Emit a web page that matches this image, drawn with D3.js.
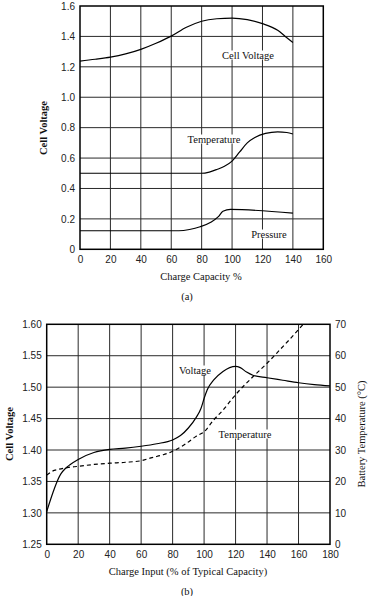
<!DOCTYPE html>
<html>
<head>
<meta charset="utf-8">
<script src="https://cdn.jsdelivr.net/npm/d3@7"></script>
<style>
  body { margin: 0; background: #fff; }
  svg { display: block; font-family: "Liberation Serif", "DejaVu Serif", serif; }
  .tick-label { font-size: 10px; fill: #222; }
  .grid line { stroke: #2a2a2a; stroke-width: 1; }
  .frame { fill: none; stroke: #000; stroke-width: 1.5; }
  .curve { fill: none; stroke: #000; stroke-width: 1.2; }
  .curve.dashed { stroke-dasharray: 4 3; }
  .note { font-size: 10.5px; fill: #111; }
</style>
</head>
<body>
<svg id="chart" width="386" height="596"></svg>
<script>
// chart (a): charge capacity %, values on one left axis
const capTicksA = [0, 20, 40, 60, 80, 100, 120, 140, 160];
const valTicksA = [0, 0.2, 0.4, 0.6, 0.8, 1.0, 1.2, 1.4, 1.6];
const cellVoltageA = [[0,1.238],[10,1.25],[20,1.264],[30,1.285],[40,1.315],[50,1.355],[60,1.402],
  [70,1.46],[80,1.50],[90,1.516],[100,1.52],[110,1.51],[120,1.484],[130,1.44],[135,1.40],[140,1.36]];
const temperatureA = [[0,0.5],[80,0.5],[85,0.508],[90,0.525],[95,0.546],[100,0.58],[105,0.64],
  [110,0.70],[115,0.735],[122,0.762],[130,0.772],[136,0.768],[140,0.758]];
const pressureA = [[0,0.122],[65,0.122],[72,0.13],[79,0.148],[86,0.178],[91,0.215],[94,0.25],
  [99,0.262],[140,0.238]];

// chart (b): charge input, cell voltage (left) and battery temperature (right)
const inputTicksB = [0, 20, 40, 60, 80, 100, 120, 140, 160, 180];
const voltTicksB = [1.25, 1.30, 1.35, 1.40, 1.45, 1.50, 1.55, 1.60];
const tempTicksB = [0, 10, 20, 30, 40, 50, 60, 70];
const voltageB = [[0,1.302],[9,1.362],[12,1.371],[15,1.377],[20,1.385],[30,1.396],[40,1.401],
  [50,1.403],[60,1.406],[70,1.41],[80,1.416],[85,1.423],[90,1.435],[95,1.452],[98,1.466],
  [100,1.482],[102,1.496],[106,1.511],[112,1.525],[120,1.533],[123,1.531],[127,1.524],
  [131,1.519],[140,1.515],[150,1.511],[160,1.507],[170,1.504],[180,1.502]];
const temperatureB = [[0,22.0],[3,23.1],[8,23.9],[13,24.4],[20,24.8],[30,25.4],[40,25.8],
  [50,26.1],[60,26.6],[67,27.6],[74,28.5],[80,29.6],[85,30.9],[89,32.2],[95,34.4],[100,35.8],
  [106,39.5],[112,42.7],[120,47.6],[131,53.3],[140,57.6],[148,61.8],[154,65.0],[163,70]];

const svg = d3.select('#chart');

function drawGrid(g, x, y, xTicks, yTicks) {
  const grid = g.append('g').attr('class', 'grid');
  grid.selectAll('line.v')
    .data(xTicks.slice(1, -1))
    .join('line')
    .attr('x1', d => x(d)).attr('x2', d => x(d))
    .attr('y1', y.range()[0]).attr('y2', y.range()[1]);
  grid.selectAll('line.h')
    .data(yTicks.slice(1, -1))
    .join('line')
    .attr('class', 'h')
    .attr('x1', x.range()[0]).attr('x2', x.range()[1])
    .attr('y1', d => y(d)).attr('y2', d => y(d));
}

function drawFrame(g, x, y) {
  g.append('rect')
    .attr('class', 'frame')
    .attr('x', x.range()[0]).attr('y', y.range()[1])
    .attr('width', x.range()[1] - x.range()[0])
    .attr('height', y.range()[0] - y.range()[1]);
}

// label with white backing, breaks the grid like the print does
function note(g, text, cx, cy) {
  const t = g.append('text')
    .attr('class', 'note')
    .attr('x', cx).attr('y', cy)
    .attr('text-anchor', 'middle')
    .attr('dominant-baseline', 'central')
    .text(text);
  const bb = t.node().getBBox();
  g.insert('rect', () => t.node())
    .attr('x', bb.x - 1).attr('y', bb.y + 1)
    .attr('width', bb.width + 2).attr('height', bb.height - 2)
    .attr('fill', '#fff');
}

function plainAxis(g, scale, orient, pos, ticks, fmt) {
  const axis = (orient === 'left' ? d3.axisLeft(scale) : orient === 'right' ? d3.axisRight(scale) : d3.axisBottom(scale))
    .tickValues(ticks).tickFormat(fmt).tickSize(0).tickPadding(5);
  const a = g.append('g')
    .attr('transform', orient === 'bottom' ? `translate(0,${pos})` : `translate(${pos},0)`)
    .call(axis);
  a.select('.domain').remove();
  a.selectAll('text').attr('class', 'tick-label').attr('font-family', null).attr('font-size', null);
  return a;
}

// ---------- (a) ----------
{
  const g = svg.append('g');
  const x = d3.scaleLinear().domain([0, 160]).range([80, 323.3]);
  const y = d3.scaleLinear().domain([0, 1.6]).range([249.3, 6]);

  drawGrid(g, x, y, capTicksA, valTicksA);

  const line = d3.line().x(d => x(d[0])).y(d => y(d[1])).curve(d3.curveMonotoneX);
  [cellVoltageA, temperatureA, pressureA].forEach(s => {
    g.append('path').attr('class', 'curve').attr('d', line(s));
  });

  note(g, 'Cell Voltage', 248, 55);
  note(g, 'Temperature', 214, 139);
  note(g, 'Pressure', 269, 234);

  drawFrame(g, x, y);

  plainAxis(g, y, 'left', 80, valTicksA, d => d === 0 ? '0' : d3.format('.1f')(d));
  plainAxis(g, x, 'bottom', 249.3, capTicksA, d3.format('d'))
    .selectAll('text').attr('dy', '0.9em');

  g.append('text').attr('class', 'note')
    .attr('transform', 'translate(47,128) rotate(-90)')
    .attr('text-anchor', 'middle').attr('font-weight', 'bold')
    .text('Cell Voltage');
  g.append('text').attr('class', 'note')
    .attr('x', 201).attr('y', 280).attr('text-anchor', 'middle')
    .text('Charge Capacity %');
  g.append('text').attr('class', 'note')
    .attr('x', 187).attr('y', 300).attr('text-anchor', 'middle')
    .text('(a)');
}

// ---------- (b) ----------
{
  const g = svg.append('g');
  const x = d3.scaleLinear().domain([0, 180]).range([46.7, 330]);
  const yV = d3.scaleLinear().domain([1.25, 1.60]).range([544.3, 324.3]);
  const yT = d3.scaleLinear().domain([0, 70]).range([544.3, 324.3]);

  drawGrid(g, x, yV, inputTicksB, voltTicksB);

  const lineV = d3.line().x(d => x(d[0])).y(d => yV(d[1])).curve(d3.curveMonotoneX);
  const lineT = d3.line().x(d => x(d[0])).y(d => yT(d[1])).curve(d3.curveMonotoneX);
  g.append('path').attr('class', 'curve').attr('d', lineV(voltageB));
  g.append('path').attr('class', 'curve dashed').attr('d', lineT(temperatureB));

  note(g, 'Voltage', 195, 370);
  note(g, 'Temperature', 245, 434);

  drawFrame(g, x, yV);

  plainAxis(g, yV, 'left', 46.7, voltTicksB, d3.format('.2f'));
  plainAxis(g, yT, 'right', 330, tempTicksB, d3.format('d'));
  plainAxis(g, x, 'bottom', 544.3, inputTicksB, d3.format('d'))
    .selectAll('text').attr('dy', '0.9em');

  g.append('text').attr('class', 'note')
    .attr('transform', 'translate(13,434) rotate(-90)')
    .attr('text-anchor', 'middle').attr('font-weight', 'bold')
    .text('Cell Voltage');
  g.append('text').attr('class', 'note')
    .attr('transform', 'translate(365,434) rotate(-90)')
    .attr('text-anchor', 'middle')
    .text('Battery Temperature (°C)');
  g.append('text').attr('class', 'note')
    .attr('x', 188).attr('y', 575).attr('text-anchor', 'middle')
    .text('Charge Input (% of Typical Capacity)');
  g.append('text').attr('class', 'note')
    .attr('x', 187).attr('y', 595).attr('text-anchor', 'middle')
    .text('(b)');
}
</script>
</body>
</html>
